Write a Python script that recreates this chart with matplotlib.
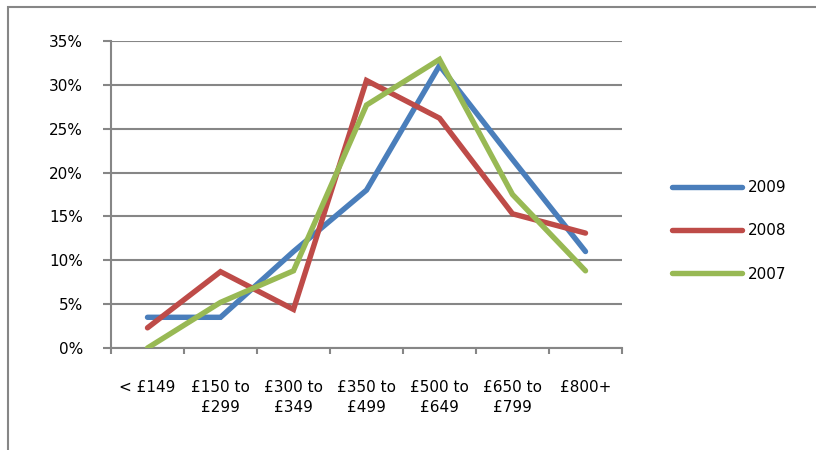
import matplotlib
matplotlib.use("Agg")
import matplotlib.pyplot as plt
from matplotlib.patches import Rectangle
from matplotlib.ticker import FixedLocator, PercentFormatter

categories = ["< £149", "£150 to\n£299", "£300 to\n£349", "£350 to\n£499",
              "£500 to\n£649", "£650 to\n£799", "£800+"]
y2009 = [3.5, 3.5, 11.0, 18.0, 32.2, 21.5, 11.0]
y2008 = [2.3, 8.7, 4.4, 30.5, 26.2, 15.3, 13.1]
y2007 = [0.0, 5.2, 8.8, 27.7, 32.9, 17.5, 8.8]
series = [("2009", y2009, "#4a7ebb"), ("2008", y2008, "#be4b48"), ("2007", y2007, "#98b954")]
yticks = [0, 5, 10, 15, 20, 25, 30, 35]

plt.rcParams['font.family'] = ['DejaVu Sans']
FS = 11
fig = plt.figure(figsize=(8.16, 4.5), dpi=100)
fig.patches.append(Rectangle((8/816, -0.1), 2.0, 1 - 7/450 + 0.1, transform=fig.transFigure,
                             fill=False, edgecolor="#868686", linewidth=1.5))
ax = fig.add_axes([111/816, 1 - 348/450, (622 - 111)/816, (348 - 41)/450])

x = list(range(len(categories)))
handles = []
for name, vals, col in series:
    h, = ax.plot(x, vals, color=col, linewidth=3.9, solid_capstyle="round",
                 solid_joinstyle="miter", label=name, zorder=3)
    handles.append(h)

ax.set_xlim(-0.5, len(categories) - 0.5)
ax.set_ylim(0, 35)
ax.set_yticks(yticks)
ax.yaxis.set_major_formatter(PercentFormatter(decimals=0))
ax.grid(axis="y", color="#868686", linewidth=1.5)
ax.set_axisbelow(True)

ax.xaxis.set_major_locator(FixedLocator([i - 0.5 for i in range(len(categories) + 1)]))
ax.xaxis.set_minor_locator(FixedLocator(x))
ax.set_xticklabels([], minor=False)
ax.set_xticklabels(categories, minor=True, fontsize=FS, linespacing=1.45, va="top")
ax.tick_params(axis="x", which="minor", length=0, pad=23)
ax.tick_params(axis="x", which="major", length=4, width=1.5, color="#868686", direction="out")
ax.tick_params(axis="y", length=6, width=1.5, color="#868686", labelsize=FS, pad=14)

for s in ["top", "right"]:
    ax.spines[s].set_visible(False)
for s in ["left", "bottom"]:
    ax.spines[s].set_color("#868686")
    ax.spines[s].set_linewidth(1.5)

leg = fig.legend(handles=handles, loc="center left", bbox_to_anchor=(658/816, 1 - 231/450),
                 frameon=False, fontsize=FS, handlelength=4.6, labelspacing=1.85,
                 handletextpad=0.4)

fig.savefig("out.png", dpi=100)
